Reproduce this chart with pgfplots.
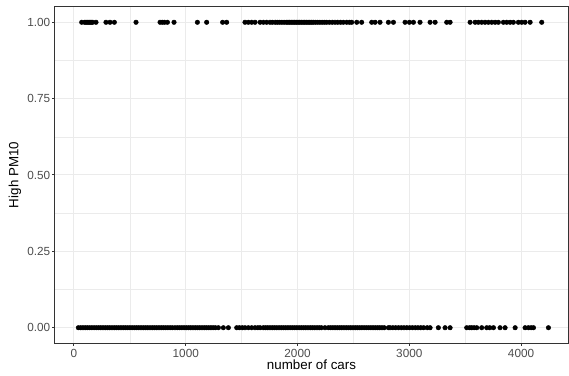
\documentclass[border=0pt]{standalone}
\usepackage{fontspec}
\setmainfont{Liberation Sans}
\usepackage{pgfplots}
\pgfplotsset{compat=1.18}
\definecolor{gridc}{HTML}{EBEBEB}
\definecolor{border}{HTML}{333333}
\definecolor{ticklab}{HTML}{4D4D4D}
\begin{document}
\begin{tikzpicture}
\useasboundingbox (-55bp,-33bp) rectangle (514bp,343bp);
\begin{axis}[at={(0,0)}, anchor=south west, scale only axis,
  width=513bp, height=336bp,
  xmin=-170, xmax=4420, ymin=-0.05, ymax=1.05,
  xtick={0,1000,2000,3000,4000}, ytick={0,0.25,0.5,0.75,1},
  minor xtick={500,1500,2500,3500}, minor ytick={0.125,0.375,0.625,0.875},
  yticklabel={\pgfmathprintnumber[fixed,fixed zerofill,precision=2]{\tick}},
  scaled x ticks=false,
  xticklabel style={/pgf/number format/1000 sep={}},
  /pgf/number format/assume math mode=true,
  grid=both,
  major grid style={gridc, line width=1bp},
  minor grid style={gridc, line width=0.5bp},
  axis line style={border, line width=1bp},
  major tick style={border, line width=1bp},
  major tick length=2.75bp, minor tick length=0pt,
  tick align=outside, tick pos=left,
  ticklabel style={font=\fontsize{11.8}{13}\selectfont, text=ticklab},
  xlabel={number of cars}, ylabel={High PM10},
  label style={font=\fontsize{13.4}{15}\selectfont},
  xlabel style={at={(axis description cs:0.5,-0.066)}, anchor=center},
  ylabel style={at={(axis description cs:-0.078,0.5)}, anchor=center},
  xticklabel style={anchor=north, yshift=0bp},
  yticklabel style={anchor=east, xshift=1.5bp},
  clip=false,
]
\addplot[only marks, mark=*, mark size=2.3bp, color=black] coordinates {
(69,1)(95,1)(107,1)(120,1)(133,1)(143,1)(155,1)(167,1)(197,1)(286,1)(322,1)(361,1)
(555,1)(770,1)(790,1)(810,1)(836,1)(895,1)(1104,1)(1187,1)(1330,1)(1366,1)
(1530,1)(1560,1)(1590,1)(1620,1)(1665,1)(1695,1)(1724,1)
(1754,1)(1775,1)(1800,1)(1820,1)(1840,1)(1860,1)(1880,1)(1900,1)(1915,1)(1930,1)
(1945,1)(1960,1)(1975,1)(1990,1)(2005,1)(2020,1)(2035,1)(2050,1)(2065,1)(2080,1)
(2095,1)(2110,1)(2125,1)(2140,1)(2160,1)(2180,1)(2200,1)(2220,1)(2240,1)(2260,1)
(2285,1)(2310,1)(2335,1)(2360,1)(2385,1)(2410,1)
(2440,1)(2465,1)(2485,1)(2530,1)(2574,1)(2664,1)(2694,1)(2738,1)(2813,1)(2858,1)
(2962,1)(3001,1)(3037,1)(3096,1)(3186,1)(3231,1)(3335,1)(3365,1)
(3544,1)(3589,1)(3618,1)(3648,1)(3678,1)(3708,1)(3738,1)(3768,1)(3797,1)(3842,1)
(3872,1)(3902,1)(3931,1)(3976,1)(4006,1)(4036,1)(4081,1)(4185,1)
};
\addplot[only marks, mark=*, mark size=2.3bp, color=black] coordinates {
(39,0)(60,0)(80,0)(100,0)(120,0)(140,0)(160,0)(180,0)(200,0)(220,0)
(240,0)(260,0)(280,0)(300,0)(320,0)(340,0)(360,0)(380,0)(400,0)(420,0)
(440,0)(460,0)(480,0)(500,0)(520,0)(540,0)(560,0)(580,0)(600,0)(620,0)
(640,0)(660,0)(680,0)(700,0)(720,0)(740,0)(760,0)(780,0)(800,0)(820,0)
(840,0)(860,0)(880,0)(904,0)(925,0)(945,0)(965,0)(985,0)(1005,0)(1025,0)
(1045,0)(1065,0)(1085,0)(1105,0)(1125,0)(1145,0)(1165,0)(1185,0)(1205,0)(1225,0)
(1245,0)(1265,0)(1292,0)
(1336,0)(1381,0)(1456,0)(1480,0)(1505,0)(1530,0)(1560,0)(1590,0)(1620,0)(1645,0)(1665,0)
(1694,0)(1714,0)(1734,0)(1754,0)(1774,0)(1794,0)(1814,0)(1834,0)(1854,0)(1874,0)
(1894,0)(1914,0)(1934,0)(1954,0)(1974,0)(1994,0)(2014,0)(2034,0)(2054,0)(2074,0)
(2094,0)(2114,0)(2134,0)(2154,0)(2174,0)(2194,0)(2214,0)(2246,0)
(2276,0)(2296,0)(2316,0)(2336,0)(2356,0)(2376,0)(2396,0)(2416,0)(2436,0)(2456,0)
(2476,0)(2496,0)(2516,0)(2536,0)(2556,0)(2576,0)(2596,0)(2616,0)(2636,0)(2656,0)
(2676,0)(2696,0)(2716,0)(2736,0)(2756,0)(2776,0)(2813,0)
(2828,0)(2853,0)(2878,0)(2903,0)(2928,0)(2953,0)(2978,0)(3003,0)(3028,0)(3053,0)
(3078,0)(3103,0)(3128,0)(3160,0)(3186,0)
(3260,0)(3320,0)(3365,0)(3514,0)(3540,0)(3559,0)(3580,0)(3604,0)(3648,0)
(3693,0)(3720,0)(3753,0)(3812,0)(3857,0)(3947,0)(4036,0)(4066,0)(4090,0)(4111,0)(4245,0)
};
\end{axis}
\node[anchor=base west, font=\fontsize{17}{20}\selectfont, inner sep=0pt] at (6bp,347bp) {High PM10 (1) vs. Not High PM10 (0)};
\end{tikzpicture}
\end{document}
